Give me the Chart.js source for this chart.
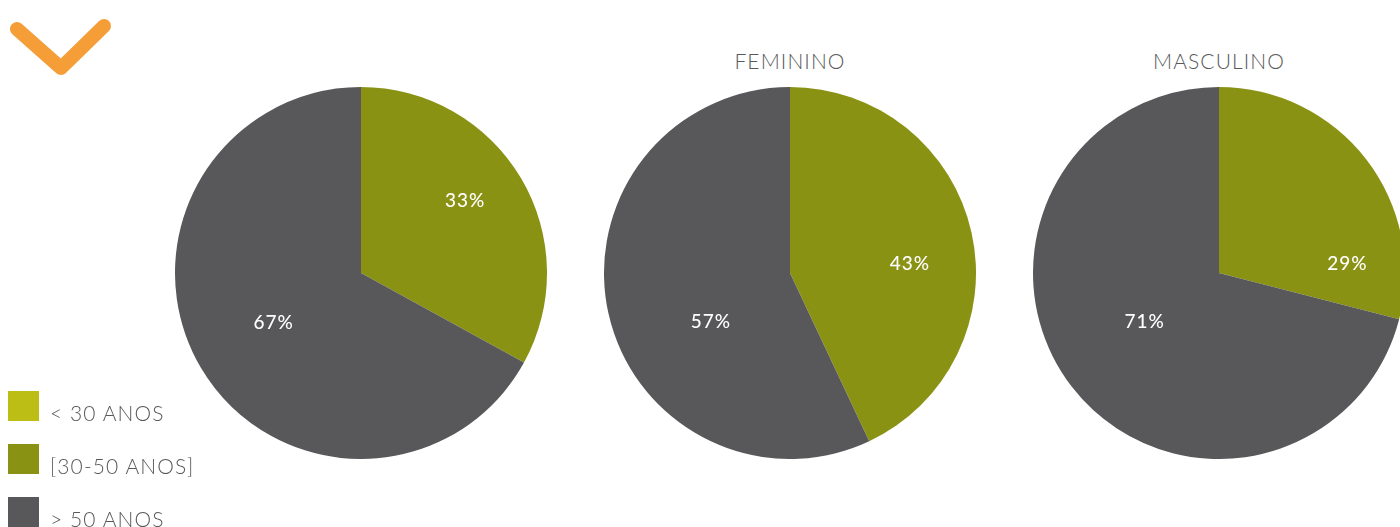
<!DOCTYPE html>
<html lang="pt">
<head>
    <meta charset="UTF-8">
    <title>Idades por género</title>
    <script src="https://cdn.jsdelivr.net/npm/chart.js"></script>
    <style>
        html, body { margin: 0; padding: 0; background: #fff; }
        body { width: 1400px; height: 527px; position: relative; overflow: hidden; font-family: Lato, "Open Sans", sans-serif; }
        .pie { position: absolute; top: 87px; width: 372px; height: 372px; }
        .title { position: absolute; top: 48px; width: 372px; text-align: center; font-size: 21px; font-weight: 300; color: #595959; letter-spacing: 1.1px; }
        #legend { position: absolute; left: 8px; top: 391px; }
        .item { display: flex; align-items: center; height: 30px; margin-bottom: 23px; }
        .sw { width: 31px; height: 30px; margin-right: 11px; }
        .lbl { font-size: 21px; font-weight: 300; color: #595959; position: relative; top: 6px; letter-spacing: 1.1px; }
    </style>
</head>
<body>
    <svg width="130" height="90" style="position:absolute;left:0;top:0">
        <polyline points="17,29 61,68 104,26" fill="none" stroke="#f59d37" stroke-width="14" stroke-linecap="round" stroke-linejoin="round"/>
    </svg>

    <div class="pie" style="left:175px"><canvas id="pieTotal"></canvas></div>
    <div class="title" style="left:604px">FEMININO</div>
    <div class="pie" style="left:604px"><canvas id="pieFem"></canvas></div>
    <div class="title" style="left:1033px">MASCULINO</div>
    <div class="pie" style="left:1033px"><canvas id="pieMasc"></canvas></div>

    <div id="legend"></div>

    <script>
        // categories and values (percent)
        const categories = ['< 30 ANOS', '[30-50 ANOS]', '> 50 ANOS'];
        const totalValues = [0, 33, 67];
        const femininoValues = [0, 43, 57];
        const masculinoValues = [0, 29, 71];
        const colors = ['#bcbe15', '#8a9213', '#58585a'];

        // labels inside slices, drawn where the original had them (fraction of radius)
        const pieLabels = {
            id: 'pieLabels',
            afterDatasetsDraw(chart, args, opts) {
                const c = chart.ctx;
                const meta = chart.getDatasetMeta(0);
                c.save();
                c.fillStyle = '#fff';
                c.font = '500 19px Lato, sans-serif';
                c.letterSpacing = '1px';
                c.textAlign = 'center';
                c.textBaseline = 'middle';
                meta.data.forEach((arc, i) => {
                    const v = chart.data.datasets[0].data[i];
                    if (!v) return;
                    const off = opts.offsets[i];
                    c.fillText(v + '%', arc.x + off[0] * arc.outerRadius, arc.y + off[1] * arc.outerRadius);
                });
                c.restore();
            }
        };

        function makePie(id, values, offsets) {
            new Chart(document.getElementById(id), {
                type: 'pie',
                data: {
                    labels: categories,
                    datasets: [{ data: values, backgroundColor: colors, borderWidth: 0 }]
                },
                options: {
                    responsive: true,
                    maintainAspectRatio: false,
                    animation: false,
                    layout: { padding: 0 },
                    plugins: {
                        legend: { display: false },
                        tooltip: { enabled: false },
                        pieLabels: { offsets: offsets }
                    }
                },
                plugins: [pieLabels]
            });
        }

        makePie('pieTotal', totalValues, [null, [0.56, -0.39], [-0.47, 0.27]]);
        makePie('pieFem', femininoValues, [null, [0.645, -0.05], [-0.425, 0.265]]);
        makePie('pieMasc', masculinoValues, [null, [0.69, -0.05], [-0.40, 0.265]]);

        // legend
        const legend = document.getElementById('legend');
        categories.forEach((cat, i) => {
            const row = document.createElement('div');
            row.className = 'item';
            row.innerHTML = '<div class="sw" style="background:' + colors[i] + '"></div><span class="lbl"></span>';
            row.querySelector('.lbl').textContent = cat;
            legend.appendChild(row);
        });
    </script>
</body>
</html>
